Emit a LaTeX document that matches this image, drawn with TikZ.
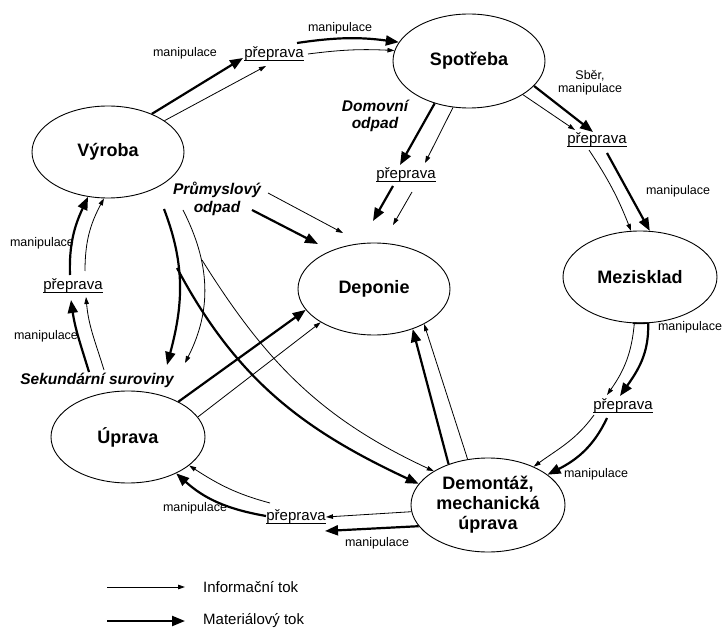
\documentclass[tikz,border=0pt]{standalone}
\usepackage{fontspec}
\setmainfont{Liberation Sans}
\usetikzlibrary{shapes.geometric,arrows.meta}

% underline set close to the baseline, crossing the descenders
\newcommand\lineunder[1]{\setbox0\hbox{#1}\rlap{\rule[-2.6pt]{\wd0}{0.9pt}}\box0}

\tikzset{
  place/.style={ellipse, draw, line width=0.9pt, minimum width=152pt, minimum height=92pt,
    inner sep=0pt, align=center, font=\fontsize{18}{20}\selectfont\bfseries},
  small/.style={inner sep=0pt, align=center, font=\fontsize{12.5}{13}\selectfont},
  haul/.style={inner sep=0pt, font=\fontsize{15}{17}\selectfont},
  waste/.style={inner sep=0pt, align=center, font=\fontsize{15.5}{17.5}\selectfont\bfseries\itshape},
  info/.style={line width=0.8pt, -{Triangle[length=7pt,width=4.5pt]}},
  matflow/.style={line width=2.2pt, -{Triangle[length=13pt,width=10pt]}},
}

\begin{document}
\begin{tikzpicture}[x=1pt, y=-1pt]
\useasboundingbox (0,0) rectangle (723,628);

% stations of the cycle
\node[place] (vyr) at (108,152) {Výroba};
\node[place, minimum height=94pt] (spo) at (469,61) {Spotřeba};
\node[place] (dep) at (374,289) {Deponie};
\node[place, minimum width=154pt] (mez) at (640,277) {Mezisklad};
\node[place, minimum width=154pt] (upr) at (128,437) {Úprava};
\node[place, minimum width=154pt, minimum height=94pt] (dem) at (488,505) {Demontáž,\\mechanická\\úprava};

% transport and handling labels
\node[haul] (p1) at (274,54) {\lineunder{přeprava}};
\node[small] (m1) at (185,53) {manipulace};
\node[small] (m2) at (340,28) {manipulace};
\node[small] (m3) at (590,83) {Sběr,\\manipulace};
\node[waste] (dom) at (375,116) {Domovní\\odpad};
\node[haul] (p2) at (406,175) {\lineunder{přeprava}};
\node[haul] (p3) at (597,140) {\lineunder{přeprava}};
\node[small] (m4) at (678,191) {manipulace};
\node[waste] (prum) at (217,199) {Průmyslový\\odpad};
\node[small] (m5) at (42,243) {manipulace};
\node[haul] (p6) at (73,286) {\lineunder{přeprava}};
\node[small] (m6) at (46,336) {manipulace};
\node[waste] (sek) at (97,380) {Sekundární suroviny};
\node[small] (m7) at (690,327) {manipulace};
\node[haul] (p4) at (623,406) {\lineunder{přeprava}};
\node[small] (m8) at (596,474) {manipulace};
\node[small] (m9) at (195,508) {manipulace};
\node[haul] (p5) at (296,517) {\lineunder{přeprava}};
\node[small] (m10) at (377,543) {manipulace};

% free ends of the flows
\coordinate (a1) at (243,58);   \coordinate (a2) at (266,66);
\coordinate (b1) at (297,43);   \coordinate (b2) at (308,54);
\coordinate (c1) at (400,165);  \coordinate (c2) at (425,163);
\coordinate (d1s) at (393,186); \coordinate (d1e) at (373,221);
\coordinate (d2s) at (412,192); \coordinate (d2e) at (393,225);
\coordinate (e1) at (593,132);  \coordinate (e2) at (575,130);
\coordinate (f1) at (607,153);  \coordinate (f2) at (589,150);
\coordinate (g1) at (620,396);  \coordinate (g2) at (607,395);
\coordinate (h1) at (607,418);  \coordinate (h2) at (594,415);
\coordinate (i1) at (325,531);  \coordinate (i2) at (326,517);
\coordinate (j1) at (266,516);  \coordinate (j2) at (270,503);
\coordinate (k1s) at (89,372);  \coordinate (k1e) at (71,300);
\coordinate (k2s) at (104,370); \coordinate (k2e) at (86,297);
\coordinate (l1s) at (70,275);  \coordinate (l2s) at (85,271);
\coordinate (v1s) at (164,209); \coordinate (v1e) at (167,365);
\coordinate (v2s) at (183,210); \coordinate (v2e) at (185,363);
\coordinate (w1s) at (177,268); \coordinate (w2s) at (202,260);
\coordinate (x1s) at (252,210); \coordinate (x1e) at (318,244);
\coordinate (x2s) at (268,193); \coordinate (x2e) at (343,233);

% Výroba -> přeprava -> Spotřeba
\draw[matflow] (vyr.41) -- (a1);
\draw[info] (vyr.29) -- (a2);
\draw[matflow] (b1) to[bend left=8] (spo.165);
\draw[info] (b2) to[bend left=5] (spo.172);

% Spotřeba -> přeprava -> Deponie
\draw[matflow] (spo.-129) -- (c1);
\draw[info] (spo.-109) -- (c2);
\draw[matflow] (d1s) -- (d1e);
\draw[info] (d2s) -- (d2e);

% Spotřeba -> přeprava -> Mezisklad
\draw[matflow] (spo.-21) -- (e1);
\draw[info] (spo.-32) -- (e2);
\draw[matflow] (f1) -- (mez.78);
\draw[info] (f2) to[bend left=6] (mez.101);

% Mezisklad -> přeprava -> Demontáž
\draw[line width=1.6pt] (mez.-99) -- (mez.-80);
\draw[matflow] (mez.-80) to[out=-88,in=55] (g1);
\draw[info] (mez.-97) to[out=-95,in=55] (g2);
\draw[matflow] (h1) to[out=-115,in=27] (dem.27);
\draw[info] (h2) to[out=-126,in=36] (dem.40);

% Demontáž -> přeprava -> Úprava
\draw[info] (dem.185) -- (i2);
\draw[matflow] (dem.197) -- (i1);
\draw[matflow] (j1) to[out=170,in=-42] (upr.-37);
\draw[info] (j2) to[out=165,in=-33] (upr.-25);

% Úprava -> přeprava -> Výroba
\draw[matflow] (k1s) to[out=107,in=-82] (k1e);
\draw[info] (k2s) to[out=107,in=-85] (k2e);
\draw[matflow] (l1s) to[out=92,in=-115] (vyr.-114);
\draw[info] (l2s) to[out=90,in=-118] (vyr.-95);

% Výroba -> Úprava and Výroba -> Demontáž
\draw[matflow] (v1s) to[out=-69,in=75] (v1e);
\draw[info] (v2s) to[out=-63,in=63] (v2e);
\draw[matflow] (w1s) to[out=-62,in=155] (dem.163);
\draw[info] (w2s) to[out=-58,in=155] (dem.148);

% flows into Deponie
\draw[matflow] (x1s) -- (x1e);
\draw[info] (x2s) -- (x2e);
\draw[matflow] (upr.35) -- (dep.197);
\draw[info] (upr.16) -- (dep.212);
\draw[matflow] (dem.134) -- (dep.-46);
\draw[info] (dem.114) -- (dep.-35);

% legend
\coordinate (lg1a) at (107,587); \coordinate (lg1b) at (185,587);
\coordinate (lg2a) at (107,621); \coordinate (lg2b) at (185,621);
\draw[info] (lg1a) -- (lg1b);
\draw[matflow] (lg2a) -- (lg2b);
\node[haul, anchor=west] (lt1) at (203,587) {Informační tok};
\node[haul, anchor=west] (lt2) at (203,621) {Materiálový tok};
\end{tikzpicture}
\end{document}
